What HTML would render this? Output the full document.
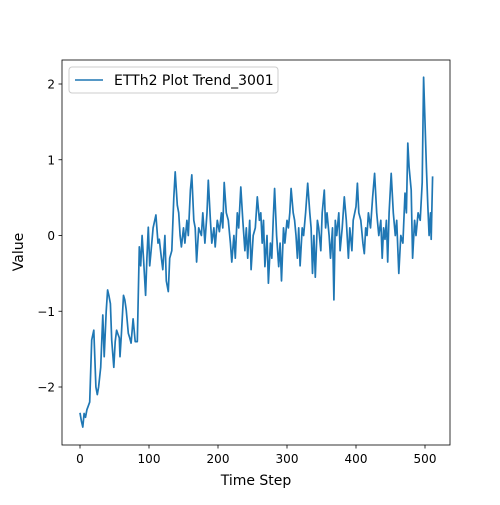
<!DOCTYPE html>
<html><head><meta charset="utf-8"><style>
body{margin:0;background:#fff;font-family:"Liberation Sans","DejaVu Sans",sans-serif}
</style></head><body>
<svg id="chart" width="500" height="500" xmlns="http://www.w3.org/2000/svg" font-family="DejaVu Sans, Liberation Sans, sans-serif">
<rect width="500" height="500" fill="#fff"/>
<path id="series" fill="none" stroke="#1f77b4" stroke-width="1.7" stroke-linejoin="round"/>
<rect x="62" y="60" width="388" height="385" fill="none" stroke="#000" stroke-width="0.8"/>
<g id="axes"></g>
<text x="256" y="485" font-size="14" text-anchor="middle">Time Step</text>
<text transform="translate(23,252) rotate(-90)" font-size="14" text-anchor="middle">Value</text>
<g>
<rect x="69" y="67" width="209" height="26" rx="3" fill="#fff" stroke="#ccc" stroke-width="1"/>
<line x1="75" y1="80" x2="103" y2="80" stroke="#1f77b4" stroke-width="1.5"/>
<text x="114" y="85" font-size="14">ETTh2 Plot Trend_3001</text>
</g>
</svg>
<script>
const steps=[0,2,4,6,8,10,12,14,17,20,23,25,27,30,33,35,38,40,42,44,46,49,51,53,55,57,58,60,63,65,67,70,72,74,77,80,83,86,88,90,92,95,97,99,101,103,106,110,113,115,118,120,123,125,128,130,133,136,138,141,143,145,147,150,152,155,157,160,162,165,167,169,172,176,178,181,184,186,189,191,194,196,199,202,205,207,209,212,215,218,220,223,225,228,230,233,236,239,241,243,246,248,251,254,257,260,262,264,266,268,271,273,276,278,280,282,285,288,290,292,295,297,300,302,304,306,309,311,313,315,317,319,322,324,327,330,333,335,337,339,341,344,346,349,351,354,356,358,361,363,366,368,370,372,375,377,380,383,386,389,391,394,396,400,402,404,407,410,412,414,416,418,421,424,427,430,433,436,438,440,442,444,446,448,451,454,457,459,462,465,468,471,473,475,477,480,482,485,487,490,493,496,498,500,502,504,506,508,509,511];
const values=[-2.34,-2.45,-2.53,-2.35,-2.4,-2.3,-2.25,-2.2,-1.38,-1.25,-2.0,-2.1,-2.0,-1.74,-1.05,-1.6,-1.0,-0.72,-0.8,-0.9,-1.38,-1.74,-1.4,-1.25,-1.3,-1.35,-1.6,-1.3,-0.79,-0.85,-0.98,-1.29,-1.35,-1.42,-1.1,-1.4,-1.4,-0.15,-0.4,0.0,-0.3,-0.79,-0.3,0.11,-0.4,-0.2,0.1,0.27,-0.1,-0.05,-0.3,-0.45,0.0,-0.6,-0.74,-0.3,-0.2,0.5,0.84,0.4,0.3,0.0,-0.15,0.1,-0.1,0.2,0.0,0.6,0.8,0.2,0.1,-0.35,0.1,0.0,0.3,-0.1,0.3,0.73,0.2,-0.1,0.1,-0.15,0.2,0.05,0.3,0.1,0.7,0.3,0.2,-0.1,-0.35,0.0,-0.3,0.3,0.1,0.64,0.2,-0.2,0.1,-0.3,0.2,-0.45,0.0,0.1,0.51,0.2,0.3,-0.1,0.2,-0.41,0.0,-0.63,-0.1,-0.3,0.2,0.62,0.0,-0.41,-0.1,-0.6,0.1,-0.1,0.2,0.1,0.3,0.62,0.3,0.2,0.0,-0.3,0.1,-0.4,0.1,0.0,0.3,0.69,0.3,0.1,-0.5,0.0,-0.55,0.2,0.1,-0.2,0.3,0.6,0.1,0.3,0.0,-0.3,0.1,-0.85,0.2,0.0,0.3,-0.2,0.1,0.51,0.2,-0.3,0.1,-0.2,0.2,0.38,0.69,0.3,0.2,-0.1,-0.24,0.1,0.0,0.3,0.1,0.5,0.82,0.3,0.0,0.2,-0.3,0.1,-0.05,0.2,-0.35,0.3,0.82,0.3,0.0,0.2,-0.5,0.0,-0.1,0.56,0.3,1.22,0.9,0.6,-0.3,0.2,0.0,0.3,0.2,0.7,2.09,1.5,0.9,0.4,0.0,0.3,-0.05,0.78];
const xTicks=[0,100,200,300,400,500];
const yTicks=[-2,-1,0,1,2];
const X=v=>80+v*0.69, Y=v=>235.5-v*75.75;
const minus=v=>String(v).replace('-','\u2212');
const n=Math.min(steps.length,values.length);
let d='';for(let i=0;i<n;i++){d+=(i?'L':'M')+X(steps[i]).toFixed(1)+','+Y(values[i]).toFixed(1)}
document.getElementById('series').setAttribute('d',d);
const ax=document.getElementById('axes'),NS='http://www.w3.org/2000/svg';
function mk(tag,a){const e=document.createElementNS(NS,tag);for(const k in a)e.setAttribute(k,a[k]);ax.appendChild(e);return e;}
xTicks.forEach(v=>{const l=mk('line',{x1:X(v),x2:X(v),y1:445,y2:448.5,stroke:'#000','stroke-width':0.8});


const t=mk('text',{x:X(v),y:463,'font-size':12,'text-anchor':'middle'});t.textContent=v;

});
yTicks.forEach(v=>{const l=mk('line',{x1:58.5,x2:62,y1:Y(v),y2:Y(v),stroke:'#000','stroke-width':0.8});


const t=mk('text',{x:55,y:Y(v)+4.5,'font-size':12,'text-anchor':'end'});t.textContent=minus(v);

});
</script>
</body></html>
